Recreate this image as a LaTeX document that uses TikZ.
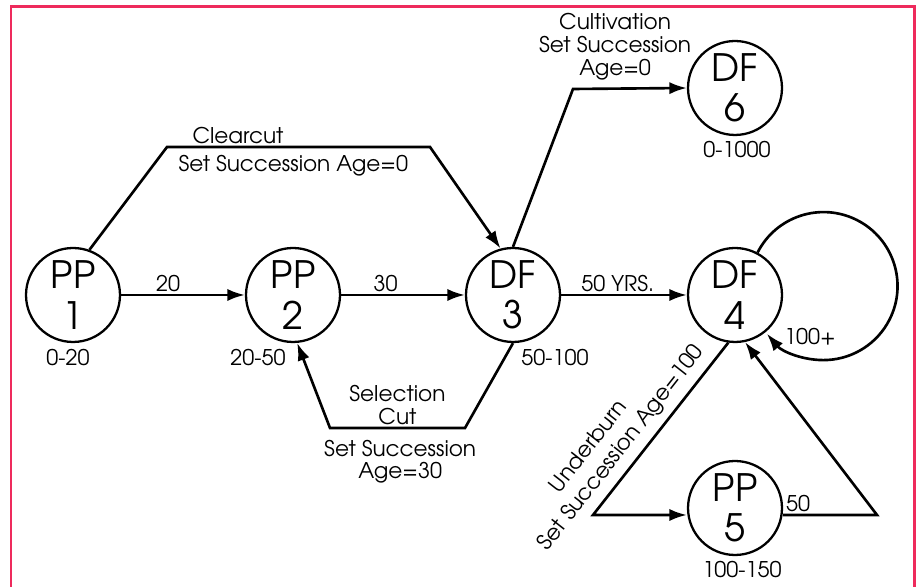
\documentclass[tikz,border=0pt]{standalone}
\usepackage{fontspec}
\setmainfont{texgyreadventor}[Extension=.otf,UprightFont=*-regular,BoldFont=*-bold]
\usepackage{tikz}
\usetikzlibrary{arrows.meta,positioning}
\definecolor{framered}{HTML}{EE2A5C}

\begin{document}
\begin{tikzpicture}[
    x=0.02cm, y=0.02cm,
    stand/.style={
        circle, draw, line width=1.3pt,
        minimum size=1.88cm, inner sep=0pt,
        align=center,
        font=\fontsize{21.5}{23}\selectfont
    },
    note/.style={font=\fontsize{12.3}{13}\selectfont, align=center, inner sep=1pt},
    flow/.style={line width=1.5pt, -{Latex[length=10pt,width=7pt]}}
]
\useasboundingbox (0,0) rectangle (919,587);
\draw[framered, line width=1.7pt] (11,-5) -- (11,580) -- (914,580) -- (914,-5);

% stands
\node[stand] (pp1) at (73,292) {PP\\1};
\node[stand] (pp2) at (293,292) {PP\\2};
\node[stand] (df3) at (513,292) {DF\\3};
\node[stand] (df4) at (735,292) {DF\\4};
\node[stand] (df6) at (735,499) {DF\\6};
\node[stand] (pp5) at (735,79) {PP\\5};

% age ranges
\node[note] (age1) at (68,229) {0-20};
\node[note] (age2) at (258,229) {20-50};
\node[note] (age3) at (555,229) {50-100};
\node[note] (age6) at (737,437) {0-1000};
\node[note] (age5) at (742,17) {100-150};

% growth
\draw[flow] (pp1) -- node[note, above, pos=0.38] (t20) {20} (pp2);
\draw[flow] (pp2) -- node[note, above, pos=0.36] (t30) {30} (df3);
\draw[flow] (df3) -- node[note, above, pos=0.45] (t50) {50 YRS.} (df4);

% treatments
\draw[flow] (pp1.70) -- (167,440)
    -- node[note, above, pos=0.27] (cc) {Clearcut}
       node[note, below=3pt, pos=0.48] (cc0) {Set Succession Age=0} (430,440)
    -- (df3.105);
\draw[flow] (df3.north) -- (573,498)
    -- node[note, above=3pt, pos=0.37] (cv) {Cultivation\\Set Succession\\Age=0} (df6.west);
\draw[flow] (df3.south) -- (465,159)
    -- node[note, above] (sc) {Selection\\Cut}
       node[note, below=5pt, pos=0.48] (sc30) {Set Succession\\Age=30} (330,159)
    -- (pp2.-85);

\coordinate (ub) at (593,72);
\draw[flow] (df4.-98)
    -- node[note, sloped, above=3pt, pos=0.68, font=\fontsize{12.3}{15}\selectfont] (ubt)
       {Underburn\hspace*{22pt}\\Set Succession Age=100} (ub)
    -- (ub -| pp5.west);
\draw[flow] (pp5.east |- ub) -- node[note, above, pos=0.16] (t50b) {50} (877,72) -- (df4.-78);

% old growth loop
\draw[flow] (df4.62) arc[start angle=153, end angle=-140, radius=74];
\node[note] (t100) at (810,250) {100+};
\end{tikzpicture}
\end{document}
